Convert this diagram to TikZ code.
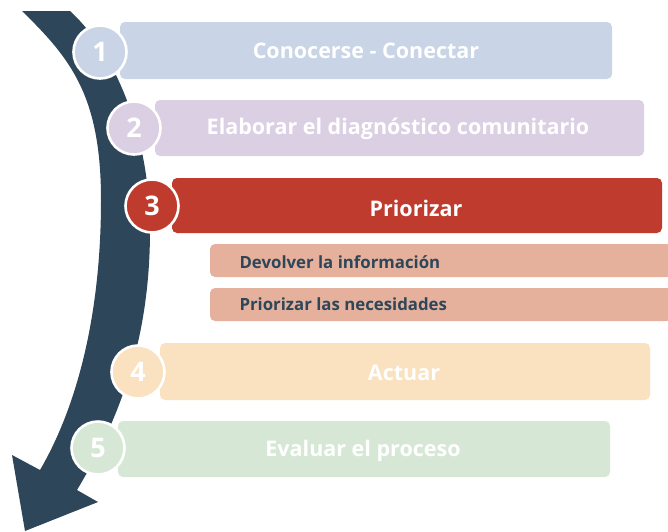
\documentclass[tikz,border=0pt]{standalone}
\usepackage{fontspec}
\setmainfont{Open Sans}
\definecolor{arrowc}{HTML}{2D4659}
\definecolor{c1}{HTML}{C9D5E7}
\definecolor{c2}{HTML}{DBCFE3}
\definecolor{c3}{HTML}{BF3B2D}
\definecolor{c3s}{HTML}{E5B19C}
\definecolor{c4}{HTML}{FAE1BF}
\definecolor{c5}{HTML}{D6E8D5}
\tikzset{
  bar/.style={rounded corners=5pt},
  numcirc/.style={circle, draw=white, line width=2.6pt, minimum size=53pt, inner sep=0pt,
    text=white, font=\bfseries\fontsize{27}{27}\selectfont},
  bartext/.style={text=white, font=\bfseries\fontsize{21.5}{21.5}\selectfont},
  subtext/.style={text=arrowc, anchor=west, font=\bfseries\fontsize{16.8}{16.8}\selectfont},
}
\begin{document}
\begin{tikzpicture}[x=1pt,y=-1pt]
\useasboundingbox (0,0) rectangle (668,531);
% big arrow
\fill[arrowc] (22,11) .. controls (70,58) and (101,95) .. (101,200)
  .. controls (101,320) and (75,410) .. (40,470)
  -- (12,455) -- (25,531) -- (98,502) -- (77,490)
  .. controls (125,410) and (150,330) .. (150,230)
  .. controls (150,140) and (118,55) .. (70,11) -- cycle;
% bars
\fill[bar, c1] (120,22) rectangle (612,79);
\fill[bar, c2] (155,100) rectangle (644,156);
\fill[bar, c3] (172,178) rectangle (662,233);
\fill[bar, c3s] (210,244) rectangle (672,277);
\fill[bar, c3s] (210,288) rectangle (672,321);
\fill[bar, c4] (160,343) rectangle (650,400);
\fill[bar, c5] (118,421) rectangle (610,477);
% texts
\node[bartext] (t1) at (366,51) {Conocerse - Conectar};
\node[bartext] (t2) at (398,129) {Elaborar el diagnóstico comunitario};
\node[bartext] (t3) at (416,208) {Priorizar};
\node[subtext] (s1) at (236,262) {Devolver la información};
\node[subtext] (s2) at (236,304) {Priorizar las necesidades};
\node[bartext] (t4) at (404,373) {Actuar};
\node[bartext] (t5) at (363,451) {Evaluar el proceso};
% circles
\node[numcirc, fill=c1] (n1) at (100,52) {1};
\node[numcirc, fill=c2] (n2) at (134,128) {2};
\node[numcirc, fill=c3] (n3) at (152,206) {3};
\node[numcirc, fill=c4] (n4) at (138,372) {4};
\node[numcirc, fill=c5] (n5) at (98,448) {5};
\end{tikzpicture}
\end{document}
